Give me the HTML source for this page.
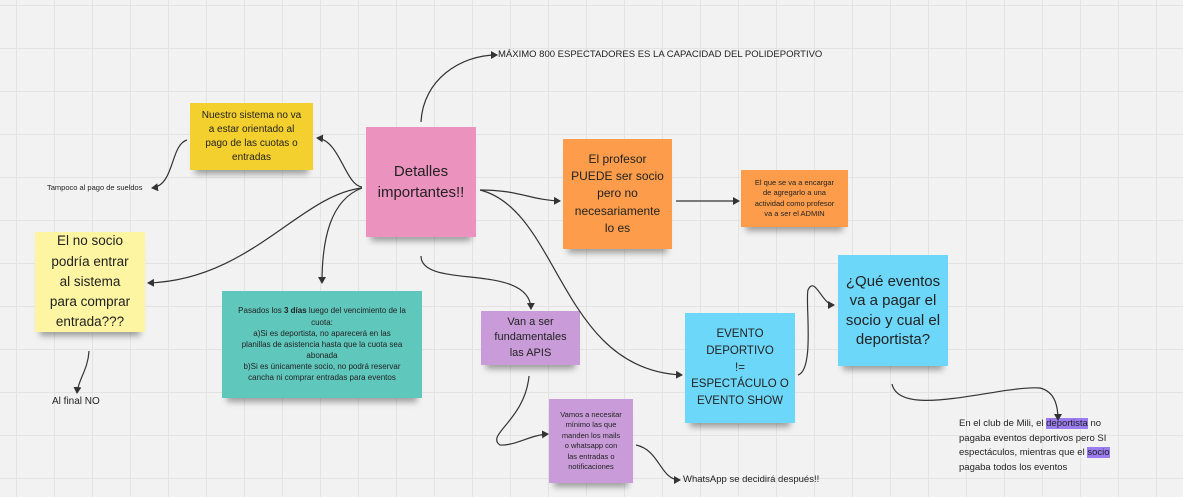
<!DOCTYPE html>
<html><head><meta charset="utf-8"><style>
body{margin:0;width:1183px;height:497px;overflow:hidden;background:#f2f2f2;font-family:"Liberation Sans",sans-serif;color:#222;position:relative;
background-image:linear-gradient(#e3e3e3 1px,transparent 1px),linear-gradient(90deg,#e3e3e3 1px,transparent 1px);background-size:38px 43px;background-position:16px 5px}
.s{position:absolute;display:flex;align-items:center;justify-content:center;text-align:center;box-sizing:border-box;padding:2px;box-shadow:0 9px 6px -5px rgba(0,0,0,.35);line-height:1.4;white-space:nowrap}
.t{position:absolute;white-space:nowrap}
svg{position:absolute;left:0;top:0}
mark{background:#9b7cf0;color:#222}
</style></head><body>
<div class="s" style="left:366px;top:127px;width:110px;height:110px;background:#ec92bf;font-size:15px"><div>Detalles<br>importantes!!</div></div>
<div class="s" style="left:190px;top:103px;width:123px;height:67px;background:#f4d02e;font-size:10px"><div>Nuestro sistema no va<br>a estar orientado al<br>pago de las cuotas o<br>entradas</div></div>
<div class="s" style="left:35px;top:232px;width:110px;height:100px;background:#fdf5a1;font-size:13.5px;line-height:1.5"><div>El no socio<br>podría entrar<br>al sistema<br>para comprar<br>entrada???</div></div>
<div class="s" style="left:222px;top:291px;width:200px;height:107px;background:#60c7bd;font-size:8px"><div>Pasados los <b>3 días</b> luego del vencimiento de la<br>cuota:<br>a)Si es deportista, no aparecerá en las<br>planillas de asistencia hasta que la cuota sea<br>abonada<br>b)Si es únicamente socio, no podrá reservar<br>cancha ni comprar entradas para eventos</div></div>
<div class="s" style="left:481px;top:311px;width:99px;height:54px;background:#c99cd9;font-size:11px"><div>Van a ser<br>fundamentales<br>las APIS</div></div>
<div class="s" style="left:549px;top:399px;width:84px;height:84px;background:#c99cd9;font-size:7.5px"><div>Vamos a necesitar<br>mínimo las que<br>manden los mails<br>o whatsapp con<br>las entradas o<br>notificaciones</div></div>
<div class="s" style="left:563px;top:139px;width:109px;height:110px;background:#fd9d4b;font-size:12px;line-height:1.45"><div>El profesor<br>PUEDE ser socio<br>pero no<br>necesariamente<br>lo es</div></div>
<div class="s" style="left:741px;top:170px;width:107px;height:57px;background:#fd9d4b;font-size:7.5px"><div>El que se va a encargar<br>de agregarlo a una<br>actividad como profesor<br>va a ser el ADMIN</div></div>
<div class="s" style="left:685px;top:313px;width:110px;height:110px;background:#6dd7f9;font-size:11.5px;line-height:1.45"><div>EVENTO<br>DEPORTIVO<br>!=<br>ESPECTÁCULO O<br>EVENTO SHOW</div></div>
<div class="s" style="left:838px;top:255px;width:110px;height:111px;background:#6dd7f9;font-size:15px;line-height:1.3"><div>¿Qué eventos<br>va a pagar el<br>socio y cual el<br>deportista?</div></div>
<div class="t" style="left:498px;top:49px;font-size:9.5px">MÁXIMO 800 ESPECTADORES ES LA CAPACIDAD DEL POLIDEPORTIVO</div>
<div class="t" style="left:47px;top:183px;font-size:7.5px">Tampoco al pago de sueldos</div>
<div class="t" style="left:52px;top:396px;font-size:10px">Al final NO</div>
<div class="t" style="left:683px;top:474px;font-size:9.5px">WhatsApp se decidirá después!!</div>
<div class="t" style="left:959px;top:417px;font-size:9.5px;line-height:14.5px">En el club de Mili, el <mark>deportista</mark> no<br>pagaba eventos deportivos pero SI<br>espectáculos, mientras que el <mark>socio</mark><br>pagaba todos los eventos</div>
<svg width="1183" height="497" fill="none" stroke="#333" stroke-width="1.2">
<defs><marker id="a" markerWidth="8" markerHeight="8" refX="6" refY="4" orient="auto" markerUnits="userSpaceOnUse"><path d="M0,0 L7,4 L0,8 Z" fill="#333" stroke="none"/></marker></defs>
<g marker-end="url(#a)">
<path d="M421,122 C423,80 460,55 497,55"/>
<path d="M362,187 C345,185 340,140 317,138"/>
<path d="M187,140 C170,145 175,185 152,188"/>
<path d="M362,188 C300,195 250,280 148,283"/>
<path d="M362,188 C330,200 322,240 322,283"/>
<path d="M480,190 C520,190 530,200 560,201"/>
<path d="M480,190 C560,210 560,370 682,375"/>
<path d="M421,256 C421,290 530,262 531,309"/>
<path d="M89,351 C88,370 78,380 77,393"/>
<path d="M676,201 L739,201"/>
<path d="M798,375 C815,370 805,300 808,290 C815,275 822,305 834,305"/>
<path d="M892,384 C900,420 1000,385 1040,388 C1056,392 1058,408 1058,420"/>
<path d="M529,376 C525,420 485,435 500,445 C515,446 530,435 548,434"/>
<path d="M636,445 C660,450 660,480 680,480"/>
</g></svg>
</body></html>
